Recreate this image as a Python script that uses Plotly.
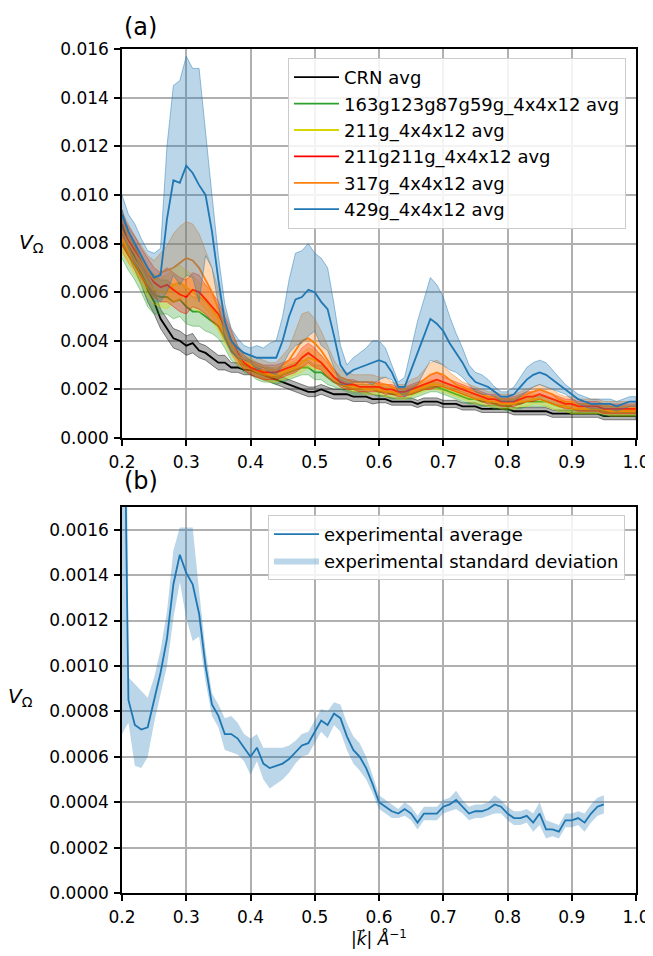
import numpy as np
import plotly.graph_objects as go

# ---- panel (a): simulated averages, k = 0.20 .. 1.00 step 0.01
k_a = np.round(np.arange(0.20, 1.0001, 0.01), 2)

crn_avg = [0.0088, 0.0080, 0.0074, 0.0068, 0.0061, 0.0056, 0.0049, 0.0045, 0.0041, 0.0040,
           0.0038, 0.0039, 0.0036, 0.0035, 0.0033, 0.0031, 0.0031, 0.0029, 0.0029, 0.0028,
           0.0028, 0.0027, 0.0026, 0.0025, 0.0024, 0.0023, 0.0022, 0.0021, 0.0020, 0.0019,
           0.0019, 0.0020, 0.0019, 0.0018, 0.0018, 0.0018, 0.0017, 0.0017, 0.0017, 0.0016,
           0.0016, 0.0016, 0.0015, 0.0015, 0.0015, 0.0015, 0.0014, 0.0015, 0.0015, 0.0015,
           0.0014, 0.0014, 0.0014, 0.0013, 0.0013, 0.0013, 0.0012, 0.0012, 0.0012, 0.0012,
           0.0012, 0.0011, 0.0011, 0.0011, 0.0011, 0.0011, 0.0011, 0.0010, 0.0010, 0.0010,
           0.0010, 0.0010, 0.0010, 0.0010, 0.0010, 0.0009, 0.0009, 0.0009, 0.0009, 0.0009, 0.0009]
crn_std = [0.0006, 0.0005, 0.0005, 0.0005, 0.0005, 0.0005, 0.0004, 0.0004, 0.0004, 0.0004,
           0.0004, 0.0004, 0.0003, 0.0003, 0.0003, 0.0003, 0.0003, 0.0002, 0.0002, 0.0002,
           0.0002, 0.0002, 0.0002, 0.0002, 0.0002, 0.0002, 0.0002, 0.0002, 0.0002, 0.0002,
           0.0002, 0.0002, 0.0002, 0.0002, 0.0002, 0.0002, 0.0002, 0.0002, 0.0002, 0.0002,
           0.00015, 0.00015, 0.00015, 0.00015, 0.00015, 0.00015, 0.00015, 0.00015, 0.00015, 0.00015,
           0.00015, 0.00015, 0.00015, 0.00015, 0.00015, 0.00015, 0.00015, 0.00015, 0.00015, 0.00015,
           0.00015, 0.00015, 0.00015, 0.00015, 0.00015, 0.00015, 0.00015, 0.00015, 0.00015, 0.00015,
           0.00015, 0.00015, 0.00015, 0.00015, 0.00015, 0.00015, 0.00015, 0.00015, 0.00015, 0.00015, 0.00015]

g163_avg = [0.0080, 0.0075, 0.0071, 0.0067, 0.0062, 0.0059, 0.0058, 0.0058, 0.0056, 0.0057,
            0.0054, 0.0052, 0.0052, 0.0050, 0.0048, 0.0046, 0.0041, 0.0036, 0.0033, 0.0030,
            0.0029, 0.0027, 0.0026, 0.0026, 0.0025, 0.0026, 0.0027, 0.0028, 0.0029, 0.0029,
            0.0027, 0.0027, 0.0025, 0.0023, 0.0022, 0.0021, 0.0020, 0.0020, 0.0020, 0.0020,
            0.0019, 0.0019, 0.0018, 0.0018, 0.0018, 0.0018, 0.0019, 0.0020, 0.0021, 0.0021,
            0.0020, 0.0019, 0.0018, 0.0017, 0.0016, 0.0016, 0.0015, 0.0015, 0.0014, 0.0014,
            0.0013, 0.0014, 0.0014, 0.0015, 0.0015, 0.0015, 0.0015, 0.0014, 0.0013, 0.0013,
            0.0012, 0.0012, 0.0012, 0.0012, 0.0012, 0.0011, 0.0011, 0.0011, 0.0011, 0.0011, 0.0011]
g163_std = [0.0006, 0.0006, 0.0006, 0.0007, 0.0008, 0.0008, 0.0007, 0.0007, 0.0007, 0.0007,
            0.0007, 0.0006, 0.0006, 0.0006, 0.0005, 0.0005, 0.0004, 0.0004, 0.0003, 0.0003,
            0.0003, 0.0003, 0.0003, 0.0003, 0.0003, 0.0003, 0.0003, 0.0003, 0.0003, 0.0003,
            0.0003, 0.0003, 0.0003, 0.0002, 0.0002, 0.0002, 0.0002, 0.0002, 0.0002, 0.0002,
            0.0002, 0.0002, 0.0002, 0.0002, 0.0002, 0.0002, 0.0002, 0.0002, 0.0002, 0.0002,
            0.0002, 0.0002, 0.0002, 0.0002, 0.0002, 0.0002, 0.0002, 0.0002, 0.0002, 0.0002,
            0.0002, 0.0002, 0.0002, 0.0002, 0.0002, 0.0002, 0.0002, 0.0002, 0.0002, 0.0002,
            0.0002, 0.0002, 0.0002, 0.0002, 0.0002, 0.0002, 0.0002, 0.0002, 0.0002, 0.0002, 0.0002]

g211_avg = [0.0082, 0.0078, 0.0073, 0.0069, 0.0064, 0.0061, 0.0060, 0.0060, 0.0063, 0.0064,
            0.0062, 0.0060, 0.0058, 0.0057, 0.0053, 0.0049, 0.0043, 0.0038, 0.0034, 0.0031,
            0.0030, 0.0028, 0.0027, 0.0026, 0.0026, 0.0027, 0.0028, 0.0029, 0.0031, 0.0033,
            0.0032, 0.0031, 0.0028, 0.0025, 0.0023, 0.0022, 0.0021, 0.0021, 0.0020, 0.0020,
            0.0020, 0.0019, 0.0019, 0.0018, 0.0018, 0.0019, 0.0020, 0.0021, 0.0022, 0.0022,
            0.0021, 0.0020, 0.0019, 0.0018, 0.0017, 0.0016, 0.0016, 0.0015, 0.0015, 0.0014,
            0.0014, 0.0014, 0.0015, 0.0015, 0.0016, 0.0016, 0.0015, 0.0014, 0.0013, 0.0013,
            0.0012, 0.0012, 0.0012, 0.0012, 0.0012, 0.0012, 0.0011, 0.0011, 0.0011, 0.0011, 0.0011]
g211_std = [0.0006, 0.0006, 0.0006, 0.0006, 0.0006, 0.0006, 0.0006, 0.0007, 0.0007, 0.0007,
            0.0007, 0.0007, 0.0006, 0.0006, 0.0005, 0.0005, 0.0004, 0.0004, 0.0003, 0.0003,
            0.0003, 0.0003, 0.0003, 0.0003, 0.0003, 0.0003, 0.0003, 0.0003, 0.0004, 0.0004,
            0.0004, 0.0003, 0.0003, 0.0002, 0.0002, 0.0002, 0.0002, 0.0002, 0.0002, 0.0002,
            0.0002, 0.0002, 0.0002, 0.0002, 0.0002, 0.0002, 0.0002, 0.0002, 0.0002, 0.0002,
            0.0002, 0.0002, 0.0002, 0.0002, 0.0002, 0.0002, 0.0002, 0.0002, 0.0002, 0.0002,
            0.0002, 0.0002, 0.0002, 0.0002, 0.0002, 0.0002, 0.0002, 0.0002, 0.0002, 0.0002,
            0.0002, 0.0002, 0.0002, 0.0002, 0.0002, 0.0002, 0.0002, 0.0002, 0.0002, 0.0002, 0.0002]

g211x2_avg = [0.0085, 0.0081, 0.0077, 0.0072, 0.0068, 0.0064, 0.0062, 0.0063, 0.0061, 0.0059,
              0.0058, 0.0061, 0.0060, 0.0057, 0.0054, 0.0051, 0.0046, 0.0040, 0.0035, 0.0031,
              0.0029, 0.0028, 0.0027, 0.0027, 0.0027, 0.0028, 0.0029, 0.0030, 0.0033, 0.0035,
              0.0033, 0.0031, 0.0028, 0.0025, 0.0023, 0.0022, 0.0022, 0.0021, 0.0021, 0.0021,
              0.0021, 0.0020, 0.0020, 0.0019, 0.0019, 0.0020, 0.0021, 0.0022, 0.0023, 0.0024,
              0.0023, 0.0022, 0.0021, 0.0020, 0.0019, 0.0018, 0.0017, 0.0016, 0.0016, 0.0015,
              0.0015, 0.0015, 0.0016, 0.0017, 0.0017, 0.0018, 0.0017, 0.0016, 0.0015, 0.0014,
              0.0014, 0.0013, 0.0013, 0.0013, 0.0013, 0.0012, 0.0012, 0.0012, 0.0012, 0.0012, 0.0012]
g211x2_std = [0.0006, 0.0006, 0.0006, 0.0006, 0.0006, 0.0006, 0.0006, 0.0007, 0.0007, 0.0007,
              0.0007, 0.0007, 0.0007, 0.0006, 0.0006, 0.0005, 0.0004, 0.0004, 0.0003, 0.0003,
              0.0003, 0.0003, 0.0003, 0.0003, 0.0003, 0.0003, 0.0003, 0.0003, 0.0004, 0.0004,
              0.0004, 0.0003, 0.0003, 0.0002, 0.0002, 0.0002, 0.0002, 0.0002, 0.0002, 0.0002,
              0.0002, 0.0002, 0.0002, 0.0002, 0.0002, 0.0002, 0.0002, 0.0002, 0.0003, 0.0003,
              0.0002, 0.0002, 0.0002, 0.0002, 0.0002, 0.0002, 0.0002, 0.0002, 0.0002, 0.0002,
              0.0002, 0.0002, 0.0002, 0.0002, 0.0002, 0.0002, 0.0002, 0.0002, 0.0002, 0.0002,
              0.0002, 0.0002, 0.0002, 0.0002, 0.0002, 0.0002, 0.0002, 0.0002, 0.0002, 0.0002, 0.0002]

g317_avg = [0.0085, 0.0080, 0.0076, 0.0072, 0.0068, 0.0065, 0.0068, 0.0069, 0.0070, 0.0072,
            0.0074, 0.0073, 0.0070, 0.0065, 0.0060, 0.0053, 0.0046, 0.0040, 0.0034, 0.0032,
            0.0031, 0.0030, 0.0029, 0.0028, 0.0028, 0.0030, 0.0032, 0.0036, 0.0040, 0.0041,
            0.0039, 0.0036, 0.0032, 0.0028, 0.0025, 0.0024, 0.0023, 0.0023, 0.0023, 0.0023,
            0.0022, 0.0022, 0.0021, 0.0020, 0.0020, 0.0021, 0.0022, 0.0024, 0.0026, 0.0027,
            0.0026, 0.0024, 0.0022, 0.0021, 0.0020, 0.0019, 0.0018, 0.0017, 0.0017, 0.0016,
            0.0016, 0.0016, 0.0017, 0.0018, 0.0019, 0.0020, 0.0019, 0.0018, 0.0016, 0.0015,
            0.0015, 0.0014, 0.0014, 0.0014, 0.0014, 0.0013, 0.0013, 0.0013, 0.0013, 0.0013, 0.0013]
g317_std = [0.0008, 0.0008, 0.0007, 0.0007, 0.0007, 0.0008, 0.0008, 0.0010, 0.0014, 0.0015,
            0.0015, 0.0015, 0.0014, 0.0012, 0.0010, 0.0008, 0.0006, 0.0005, 0.0004, 0.0003,
            0.0003, 0.0003, 0.0003, 0.0003, 0.0003, 0.0004, 0.0005, 0.0008, 0.0011, 0.0011,
            0.0010, 0.0008, 0.0006, 0.0004, 0.0003, 0.0003, 0.0003, 0.0003, 0.0003, 0.0003,
            0.0003, 0.0003, 0.0002, 0.0002, 0.0002, 0.0003, 0.0003, 0.0004, 0.0005, 0.0005,
            0.0004, 0.0003, 0.0003, 0.0002, 0.0002, 0.0002, 0.0002, 0.0002, 0.0002, 0.0002,
            0.0002, 0.0002, 0.0002, 0.0002, 0.0002, 0.0002, 0.0002, 0.0002, 0.0002, 0.0002,
            0.0002, 0.0002, 0.0002, 0.0002, 0.0002, 0.0002, 0.0002, 0.0002, 0.0002, 0.0002, 0.0002]

g429_avg = [0.0092, 0.0085, 0.0080, 0.0075, 0.0070, 0.0066, 0.0067, 0.0090, 0.0106, 0.0105,
            0.0112, 0.0109, 0.0104, 0.0100, 0.0085, 0.0065, 0.0048, 0.0040, 0.0037, 0.0035,
            0.0034, 0.0033, 0.0033, 0.0033, 0.0033, 0.0040, 0.0050, 0.0057, 0.0058, 0.0061,
            0.0060, 0.0056, 0.0053, 0.0042, 0.0030, 0.0026, 0.0028, 0.0029, 0.0030, 0.0031,
            0.0032, 0.0031, 0.0027, 0.0021, 0.0021, 0.0028, 0.0035, 0.0042, 0.0049, 0.0047,
            0.0044, 0.0039, 0.0035, 0.0031, 0.0026, 0.0023, 0.0022, 0.0021, 0.0019, 0.0017,
            0.0017, 0.0018, 0.0021, 0.0024, 0.0026, 0.0027, 0.0026, 0.0024, 0.0022, 0.0020,
            0.0018, 0.0016, 0.0015, 0.0014, 0.0014, 0.0014, 0.0014, 0.0013, 0.0014, 0.0015, 0.0015]
g429_std = [0.0008, 0.0007, 0.0008, 0.0007, 0.0007, 0.0010, 0.0011, 0.0030, 0.0039, 0.0042,
            0.0045, 0.0043, 0.0048, 0.0025, 0.0015, 0.0010, 0.0007, 0.0005, 0.0004, 0.0003,
            0.0003, 0.0005, 0.0004, 0.0006, 0.0007, 0.0010, 0.0015, 0.0019, 0.0019, 0.0019,
            0.0016, 0.0018, 0.0017, 0.0013, 0.0008, 0.0004, 0.0005, 0.0006, 0.0007, 0.0009,
            0.0008, 0.0006, 0.0003, 0.0002, 0.0004, 0.0008, 0.0013, 0.0015, 0.0017, 0.0016,
            0.0014, 0.0011, 0.0008, 0.0006, 0.0004, 0.0004, 0.0004, 0.0003, 0.0002, 0.0002,
            0.0002, 0.0003, 0.0004, 0.0005, 0.0005, 0.0005, 0.0005, 0.0004, 0.0003, 0.0002,
            0.0002, 0.0002, 0.0002, 0.0002, 0.0002, 0.0002, 0.0002, 0.0002, 0.0002, 0.0002, 0.0002]

series_a = [
    ("CRN avg", crn_avg, crn_std, "#000000"),
    ("163g123g87g59g_4x4x12 avg", g163_avg, g163_std, "#2ca02c"),
    ("211g_4x4x12 avg", g211_avg, g211_std, "#d6d600"),
    ("211g211g_4x4x12 avg", g211x2_avg, g211x2_std, "#ff0000"),
    ("317g_4x4x12 avg", g317_avg, g317_std, "#ff7f0e"),
    ("429g_4x4x12 avg", g429_avg, g429_std, "#1f77b4"),
]

# ---- panel (b): experiment, k = 0.20 .. 0.95
k_b = np.round(np.arange(0.20, 0.9501, 0.01), 2)
exp_avg = [0.0030, 0.00085, 0.00074, 0.00072, 0.00073, 0.00085, 0.00097, 0.00112, 0.00136, 0.00149,
           0.00141, 0.00136, 0.00123, 0.00100, 0.00083, 0.00078, 0.00070, 0.00070, 0.00068, 0.00064,
           0.00060, 0.00064, 0.00057, 0.00055, 0.00056, 0.00057, 0.00059, 0.00062, 0.00065, 0.00066,
           0.00071, 0.00076, 0.00074, 0.00079, 0.00077, 0.00069, 0.00063, 0.00060, 0.00055, 0.00048,
           0.00040, 0.00038, 0.00036, 0.00035, 0.00037, 0.00035, 0.00031, 0.00035, 0.00035, 0.00035,
           0.00038, 0.00039, 0.00041, 0.00038, 0.00035, 0.00036, 0.00036, 0.00037, 0.00039, 0.00038,
           0.00035, 0.00033, 0.00033, 0.00034, 0.00031, 0.00035, 0.00028, 0.00028, 0.00027, 0.00032,
           0.00032, 0.00033, 0.00031, 0.00035, 0.00038, 0.00039]
exp_std = [0.0023, 0.00010, 0.00018, 0.00017, 0.00013, 0.00010, 0.00010, 0.00012, 0.00015, 0.00012,
           0.00020, 0.00025, 0.00010, 0.00007, 0.00005, 0.00005, 0.00007, 0.00008, 0.00007, 0.00006,
           0.00008, 0.00006, 0.00007, 0.00009, 0.00008, 0.00007, 0.00006, 0.00005, 0.00005, 0.00005,
           0.00005, 0.00005, 0.00006, 0.00005, 0.00006, 0.00006, 0.00006, 0.00006, 0.00005, 0.00004,
           0.00003, 0.00003, 0.00003, 0.00002, 0.00003, 0.00003, 0.00003, 0.00003, 0.00003, 0.00003,
           0.00003, 0.00003, 0.00004, 0.00003, 0.00003, 0.00003, 0.00003, 0.00003, 0.00004, 0.00003,
           0.00003, 0.00003, 0.00003, 0.00003, 0.00004, 0.00005, 0.00004, 0.00003, 0.00003, 0.00003,
           0.00003, 0.00003, 0.00004, 0.00004, 0.00004, 0.00004]

x_ticks = [0.2, 0.3, 0.4, 0.5, 0.6, 0.7, 0.8, 0.9, 1.0]
ya_ticks = [0.0, 0.002, 0.004, 0.006, 0.008, 0.010, 0.012, 0.014, 0.016]
yb_ticks = [0.0, 0.0002, 0.0004, 0.0006, 0.0008, 0.0010, 0.0012, 0.0014, 0.0016]

# the page has an 8px body margin, so the figure is shifted by 8px in the window
W, H, OFF = 645, 948, 8


def fx(px):
    return (px - OFF) / W


def fy(py):
    return 1 - (py - OFF) / H


def rgba(hex_color, a):
    h = hex_color.lstrip("#")
    return "rgba(%d,%d,%d,%s)" % (int(h[0:2], 16), int(h[2:4], 16), int(h[4:6], 16), a)


def band(x, avg, std, color, xa, ya, name=None, legend=None):
    avg = np.array(avg)
    std = np.array(std)
    xs = np.concatenate([x, x[::-1]])
    ys = np.concatenate([avg + std, (avg - std)[::-1]])
    return go.Scatter(x=xs, y=ys, fill="toself", fillcolor=rgba(color, 0.3),
                      line=dict(color=rgba(color, 0.45), width=1), mode="lines",
                      xaxis=xa, yaxis=ya, hoverinfo="skip",
                      name=name, showlegend=name is not None, legend=legend)


fig = go.Figure()

for i, (name, avg, std, col) in enumerate(series_a):
    fig.add_trace(band(k_a, avg, std, col, "x", "y"))
    fig.add_trace(go.Scatter(x=k_a, y=avg, mode="lines", name=name, legendgroup="g%d" % i,
                             line=dict(color=col, width=1.8), xaxis="x", yaxis="y", legend="legend"))

fig.add_trace(go.Scatter(x=k_b, y=exp_avg, mode="lines", name="experimental average",
                         legendgroup="e1", line=dict(color="#1f77b4", width=1.8),
                         xaxis="x2", yaxis="y2", legend="legend2"))
bb = band(k_b, exp_avg, exp_std, "#1f77b4", "x2", "y2",
          name="experimental standard deviation", legend="legend2")
bb.legendgroup = "e2"
bb.line.width = 0
fig.add_trace(bb)

font = "DejaVu Sans"
dom_x = [fx(122), fx(636)]
axis_common = dict(showline=True, linecolor="black", linewidth=1.5, mirror=True,
                   ticks="outside", ticklen=6, tickwidth=1.5, tickcolor="black",
                   showgrid=True, gridcolor="#b0b0b0", gridwidth=1.5, zeroline=False,
                   automargin=False, ticklabelstandoff=2, ticklabeloverflow="allow",
                   tickfont=dict(family=font, size=17, color="black"))

fig.update_layout(
    width=W, height=H,
    margin=dict(l=0, r=0, t=0, b=0, autoexpand=False),
    paper_bgcolor="white", plot_bgcolor="white",
    font=dict(family=font, size=17, color="black"),
    xaxis=dict(domain=dom_x, range=[0.2, 1.0], anchor="y", tickmode="array",
               tickvals=x_ticks, ticktext=["%.1f" % v for v in x_ticks], **axis_common),
    yaxis=dict(domain=[fy(438), fy(49)], range=[0, 0.016], anchor="x",
               tickmode="array", tickvals=ya_ticks, ticktext=["%.3f" % v for v in ya_ticks],
               **axis_common),
    xaxis2=dict(domain=dom_x, range=[0.2, 1.0], anchor="y2", tickmode="array",
                tickvals=x_ticks, ticktext=["%.1f" % v for v in x_ticks], **axis_common),
    yaxis2=dict(domain=[fy(893), fy(507)], range=[0, 0.0017], anchor="x2",
                tickmode="array", tickvals=yb_ticks, ticktext=["%.4f" % v for v in yb_ticks],
                **axis_common),
    legend=dict(x=fx(288), y=fy(58), xanchor="left", yanchor="top",
                bgcolor="rgba(255,255,255,0.85)", bordercolor="#cccccc", borderwidth=1,
                font=dict(family=font, size=18), tracegroupgap=0, itemwidth=45),
    legend2=dict(x=fx(268), y=fy(515), xanchor="left", yanchor="top",
                 bgcolor="rgba(255,255,255,0.85)", bordercolor="#cccccc", borderwidth=1,
                 font=dict(family=font, size=18), tracegroupgap=0, itemwidth=45),
    showlegend=True,
)

ann = [
    dict(text="(a)", x=fx(122), y=fy(27), xanchor="left", yanchor="middle", font=dict(size=24)),
    dict(text="(b)", x=fx(122), y=fy(481), xanchor="left", yanchor="middle", font=dict(size=24)),
    dict(text="<i>V</i><sub>Ω</sub>", x=fx(31), y=fy(243), xanchor="center", yanchor="middle", font=dict(size=20)),
    dict(text="<i>V</i><sub>Ω</sub>", x=fx(20), y=fy(697), xanchor="center", yanchor="middle", font=dict(size=20)),
    dict(text="|<i>k\u20d7</i>| <i>Å</i><sup>\u22121</sup>", x=fx(379), y=fy(938),
         xanchor="center", yanchor="middle", font=dict(size=17)),
]
for a in ann:
    fig.add_annotation(xref="paper", yref="paper", showarrow=False, **a)

fig.write_html("out.html")
